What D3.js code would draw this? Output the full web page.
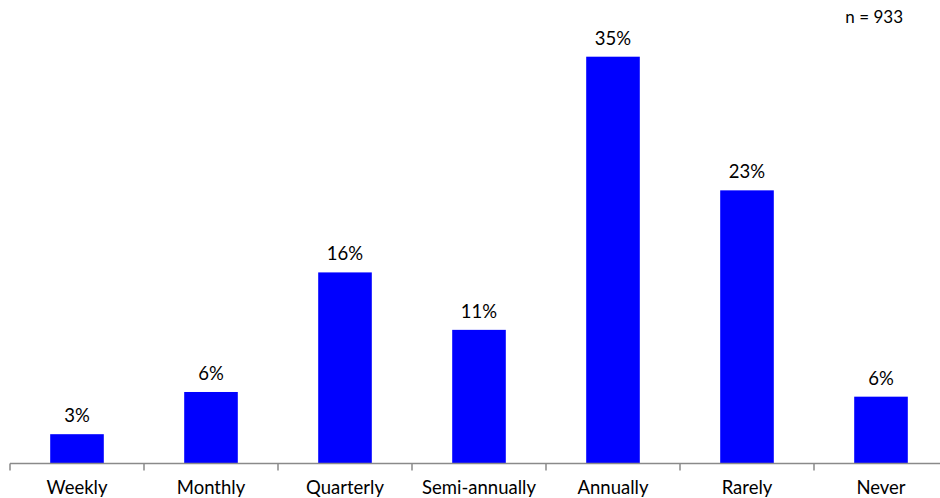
<!DOCTYPE html>
<html>
<head>
<meta charset="utf-8">
<script src="https://cdn.jsdelivr.net/npm/d3@7"></script>
<style>
  html, body { margin: 0; padding: 0; background: #fff; }
  svg { display: block; }
  text { font-family: Lato, "Open Sans", sans-serif; fill: #000; }
</style>
</head>
<body>
<svg id="chart" width="940" height="498"></svg>
<script>
// Survey: how often respondents do it (share of respondents, %)
const categories = ["Weekly", "Monthly", "Quarterly", "Semi-annually", "Annually", "Rarely", "Never"];
const shares = [2.5, 6.1, 16.3, 11.4, 34.7, 23.3, 5.7];
const sampleNote = "n = 933";

const data = categories.map((c, i) => ({ category: c, value: shares[i] }));

const svg = d3.select("#chart");
const baseline = 463.5;

const x = d3.scaleBand()
  .domain(categories)
  .range([10, 948])
  .paddingInner(0.6)
  .paddingOuter(0.3);

const y = d3.scaleLinear()
  .domain([0, d3.max(shares)])
  .range([baseline, 56.7]);

// bars
svg.append("g")
  .selectAll("rect")
  .data(data)
  .join("rect")
  .attr("x", d => x(d.category))
  .attr("y", d => y(d.value))
  .attr("width", x.bandwidth())
  .attr("height", d => y(0) - y(d.value))
  .attr("fill", "#0000ff");

// value labels
svg.append("g")
  .selectAll("text")
  .data(data)
  .join("text")
  .attr("x", d => x(d.category) + x.bandwidth() / 2)
  .attr("y", d => y(d.value) - 12)
  .attr("text-anchor", "middle")
  .style("font-size", "18.5px")
  .text(d => Math.round(d.value) + "%");

// category axis with ticks between bands
const axis = svg.append("g");
axis.append("line")
  .attr("x1", 10).attr("x2", 940)
  .attr("y1", baseline).attr("y2", baseline)
  .attr("stroke", "#8a8a8a")
  .attr("stroke-width", 1.5);

const step = x.step();
axis.selectAll("line.tick")
  .data(categories.map((c, i) => x.range()[0] + i * step))
  .join("line")
  .attr("class", "tick")
  .attr("x1", d => d).attr("x2", d => d)
  .attr("y1", baseline).attr("y2", baseline + 7)
  .attr("stroke", "#8a8a8a")
  .attr("stroke-width", 1.5);

axis.selectAll("text")
  .data(categories)
  .join("text")
  .attr("x", d => x(d) + x.bandwidth() / 2)
  .attr("y", 494)
  .attr("text-anchor", "middle")
  .style("font-size", "18.5px")
  .text(d => d);

// sample size note
svg.append("text")
  .attr("x", 903)
  .attr("y", 23)
  .attr("text-anchor", "end")
  .style("font-size", "17px")
  .text(sampleNote);
</script>
</body>
</html>
